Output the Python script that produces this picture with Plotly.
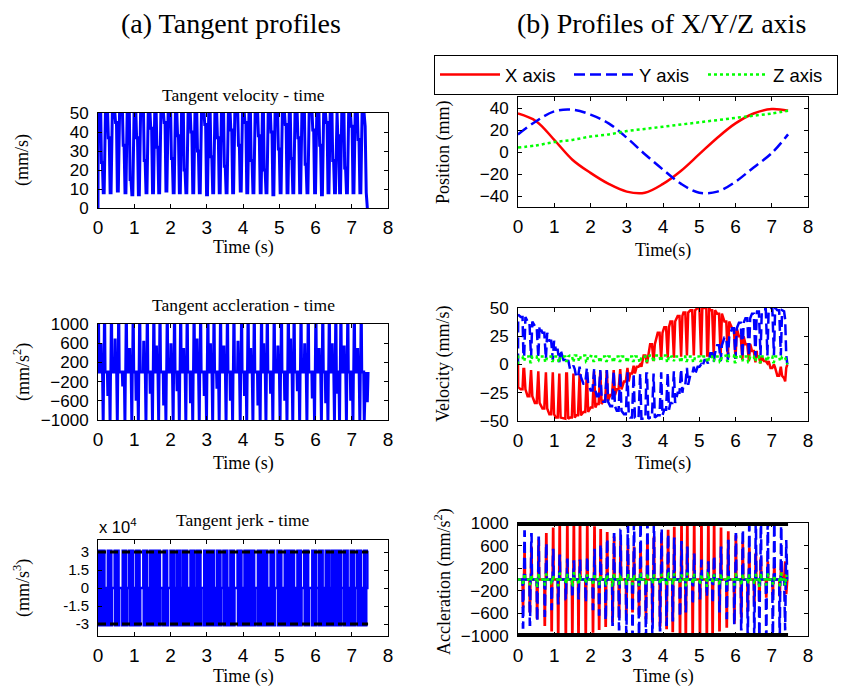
import plotly.graph_objects as go

# ---------------- data ----------------
# times (s) of the tangent-velocity troughs, one per motion cycle
cycle_t = [0.16, 0.35, 0.55, 0.76, 0.95, 1.13, 1.34, 1.52, 1.69, 1.89, 2.09, 2.26, 2.44,
           2.63, 2.81, 3.01, 3.18, 3.36, 3.55, 3.73, 3.94, 4.12, 4.29, 4.49, 4.65, 4.84,
           5.04, 5.23, 5.39, 5.58, 5.78, 5.99, 6.18, 6.36, 6.54, 6.68, 6.87, 7.05, 7.24]

# tangent velocity (mm/s)
vel_peak = 50
vel_mid = [24, 37, 45, 33, 15, 37, 25, 42, 32, 45, 26, 38, 20, 40, 30, 44, 27, 37, 22, 41,
           33, 45, 25, 38, 20, 40, 31, 44, 26, 37, 23, 41, 33, 45, 25, 38, 21, 43, 36]
vel_trough = [8, 8, 9, 8, 7, 7, 8, 8, 8, 9, 8, 8, 8, 8, 8, 7, 8, 8, 8, 8, 9, 8, 8, 8, 8, 7,
              8, 8, 8, 8, 8, 8, 7, 8, 8, 8, 8, 8, 8]
vel_start_t = [0.0, 0.005]
vel_start_v = [0, 50]
vel_end_t = [7.34, 7.37, 7.40, 7.43]
vel_end_v = [50, 43, 8, 0]

# tangent acceleration (mm/s^2)
acc_peak = 1000
acc_mid = [600, -500, 700, -300, 500, -600, 650, -450, 550, -700, 600, -400, 500, -650,
           700, -500, 600, -350, 550, -600, 650, -500, 500, -700, 600, -450, 550, -600,
           700, -400, 600, -550, 500, -650, 600, -450, 550, -600, 500]
acc_start_t = [0.0, 0.006, 0.016, 0.024]
acc_start_v = [0, 1000, 1000, 0]
acc_end_t = [7.33, 7.345, 7.36, 7.38, 7.40, 7.43, 7.45]
acc_end_v = [0, -1000, 0, 0, -600, -600, 0]

# tangent jerk (mm/s^3) and limit lines
jerk_peak = 31000
jerk_limit = 30000
acc_limit = 1000
limit_t = [0.0, 7.45]

# axis positions (mm)
pos_t = [0, 0.5, 1, 1.5, 2, 2.5, 3, 3.5, 4, 4.5, 5, 5.5, 6, 6.5, 7, 7.45]
pos_x = [35, 28, 11, -7, -19, -29, -36, -37, -29, -17, -2, 13, 26, 35, 39, 37.5]
pos_y = [16, 28, 37, 38.5, 34, 26, 13, -2, -16, -29, -37, -36, -27, -14, -1, 16]
pos_z = [4, 6, 9, 11, 14, 16, 19, 21, 23, 25, 27, 29, 31, 33, 35, 37.5]

# axis velocities per cycle (mm/s): value at full speed / value at trough
vx_ext = [-22, -28, -34, -39, -44, -47, -48, -47, -45, -42, -38, -35, -32, -27, -22, -15,
          -8, -2, 8, 18, 28, 33, 38, 43, 46, 48, 50, 50, 48, 45, 38, 32, 25, 18, 12, 7, 3, -3, -10]
vx_lo = [-4, -5, -6, -7, -7, -8, -8, -8, -8, -7, -6, -6, -5, -5, -4, -3, -1, 0, 1, 3, 5, 6,
         6, 7, 8, 8, 8, 8, 8, 8, 6, 5, 4, 3, 2, 1, 1, 0, -2]
vy_ext = [42, 38, 34, 28, 21, 13, 4, -4, -11, -17, -23, -28, -33, -37, -41, -44, -47, -48,
          -48, -47, -45, -40, -34, -25, -18, -9, -2, 4, 10, 17, 24, 32, 37, 41, 45, 47, 49, 50, 48]
vy_lo = [7, 6, 6, 5, 4, 2, 1, -1, -2, -3, -4, -5, -5, -6, -7, -7, -8, -8, -8, -8, -7, -7,
         -6, -4, -3, -2, 0, 1, 2, 3, 4, 5, 6, 7, 7, 8, 8, 8, 8]
vz_ext = [7, 7, 7, 7, 7, 7, 7, 8, 8, 8, 7, 7, 7, 7, 7, 7, 7, 7, 7, 8, 8, 8, 7, 7, 7, 7, 7,
          7, 7, 7, 8, 8, 7, 7, 7, 7, 7, 7, 7]
vz_lo = [3, 2, 3, 2, 3, 2, 3, 2, 3, 2, 3, 2, 3, 2, 3, 2, 3, 2, 3, 2, 3, 2, 3, 2, 3, 2, 3,
         2, 3, 2, 3, 2, 3, 2, 3, 2, 3, 2, 3]
vx_start_v = [0, -20]
vy_start_v = [0, 44]
vz_start_v = [0, 7]
vx_end_v = [-12, -15, -3, 0]
vy_end_v = [47, 40, 8, 0]
vz_end_v = [7, 6, 2, 0]

# axis acceleration amplitude per cycle (mm/s^2)
ax_amp = [480, 560, 680, 800, 900, 960, 1000, 1000, 1000, 960, 920, 870, 820, 740, 660, 590,
          560, 600, 680, 740, 810, 860, 910, 960, 990, 1000, 1000, 1000, 960, 900, 830, 760,
          650, 550, 450, 370, 300, 250, 280]
ay_amp = [850, 800, 740, 640, 520, 420, 350, 320, 330, 400, 520, 620, 720, 800, 880, 950,
          1000, 1000, 1000, 980, 900, 800, 720, 660, 560, 440, 330, 300, 420, 560, 680, 800,
          880, 950, 1000, 1000, 1000, 1000, 950]
az_amp = [100, 80, 110, 90, 70, 100, 80, 110, 90, 70, 100, 80, 90, 110, 70, 100, 80, 90, 100,
          70, 80, 110, 90, 70, 100, 80, 90, 110, 70, 100, 80, 90, 100, 70, 80, 110, 90, 70, 100]
acomp_start_v = [0, 0]
acomp_start_t = [0.0, 0.05]
acomp_end_t = [7.34, 7.37, 7.40, 7.43, 7.45]
ax_end_v = [0, 320, -260, 0, 0]
ay_end_v = [0, -900, 700, 0, 0]
az_end_v = [0, -100, 80, 0, 0]

# ---------------- build poly-lines from the per-cycle values ----------------
def tangent_velocity():
    t, v = list(vel_start_t), list(vel_start_v)
    for T, m, d in zip(cycle_t, vel_mid, vel_trough):
        t += [T - 0.085, T - 0.065, T - 0.04, T - 0.015, T + 0.01, T + 0.045]
        v += [vel_peak, m, m, d, d, vel_peak]
    return t + vel_end_t, v + vel_end_v


def tangent_accel():
    t, v = list(acc_start_t), list(acc_start_v)
    P = acc_peak
    for T, am in zip(cycle_t, acc_mid):
        t += [T - 0.09, T - 0.078, T - 0.066, T - 0.035, T - 0.025, T - 0.017, T - 0.005,
              T + 0.005, T + 0.017, T + 0.025, T + 0.035]
        v += [0, am, 0, 0, -P, -P, 0, 0, P, P, 0]
    return t + acc_end_t, v + acc_end_v


def tangent_jerk(at, av):
    t, v = [], []
    for i in range(len(at) - 1):
        if av[i + 1] > av[i]:
            lev = jerk_peak
        elif av[i + 1] < av[i]:
            lev = -jerk_peak
        else:
            lev = 0
        t += [at[i], at[i + 1]]
        v += [lev, lev]
    return t, v


def comp_velocity(ext, lo, start_v, end_v):
    t, v = list(vel_start_t), list(start_v)
    for T, e, l in zip(cycle_t, ext, lo):
        t += [T - 0.085, T - 0.035, T - 0.01, T + 0.01, T + 0.045]
        v += [e, e, l, l, e]
    return t + vel_end_t, v + end_v


def comp_accel(amp, end_v):
    t, v = list(acomp_start_t), list(acomp_start_v)
    for T, a in zip(cycle_t, amp):
        t += [T - 0.035, T - 0.025, T - 0.017, T - 0.005, T + 0.005, T + 0.017, T + 0.025, T + 0.035]
        v += [0, -a, -a, 0, 0, a, a, 0]
    return t + acomp_end_t, v + end_v


# ---------------- figure ----------------
W, H = 844, 687
SANS = "Liberation Sans, Arial, sans-serif"
SERIF = "Liberation Serif, Times New Roman, serif"
RED, BLUE, GREEN, BLACK = "#ff0000", "#0000ff", "#00ff00", "#000000"
DASH = "11px,5px"
DOT = "3px,3px"

fig = go.Figure()


def ax_ids(k):
    return ("x", "y") if k == 1 else (f"x{k}", f"y{k}")


def add(k, x, y, color, width, dash="solid", name=None, legend=False):
    xa, ya = ax_ids(k)
    fig.add_trace(go.Scatter(x=x, y=y, xaxis=xa, yaxis=ya, mode="lines",
                             line=dict(color=color, width=width, dash=dash),
                             name=name, showlegend=legend, hoverinfo="skip"))


vt, vv = tangent_velocity()
add(1, vt, vv, BLUE, 3)
at, av = tangent_accel()
add(2, at, av, BLUE, 3)
jt, jv = tangent_jerk(at, av)
add(3, jt, jv, BLUE, 2.5)
add(3, limit_t, [jerk_limit, jerk_limit], BLACK, 3, "8px,4px")
add(3, limit_t, [-jerk_limit, -jerk_limit], BLACK, 3, "8px,4px")

add(4, pos_t, pos_x, RED, 2.5, "solid", "X axis", True)
add(4, pos_t, pos_y, BLUE, 2.5, DASH, "Y axis", True)
add(4, pos_t, pos_z, GREEN, 2.5, DOT, "Z axis", True)
for tr in fig.data[-3:]:
    tr.line.shape = "spline"

t, v = comp_velocity(vx_ext, vx_lo, vx_start_v, vx_end_v)
add(5, t, v, RED, 2.5)
t, v = comp_velocity(vy_ext, vy_lo, vy_start_v, vy_end_v)
add(5, t, v, BLUE, 2.5, DASH)
t, v = comp_velocity(vz_ext, vz_lo, vz_start_v, vz_end_v)
add(5, t, v, GREEN, 2.5, DOT)

t, v = comp_accel(ax_amp, ax_end_v)
add(6, t, v, RED, 2.5)
t, v = comp_accel(ay_amp, ay_end_v)
add(6, t, v, BLUE, 2.5, DASH)
t, v = comp_accel(az_amp, az_end_v)
add(6, t, v, GREEN, 2.5, DOT)
add(6, limit_t, [acc_limit, acc_limit], BLACK, 6)
add(6, limit_t, [-acc_limit, -acc_limit], BLACK, 6)


def px(x):
    return x / W


def py(y):
    return 1 - y / H


LEFT_X = [px(98), px(388)]
RIGHT_X = [px(518), px(808)]
doms = {
    1: (LEFT_X, [py(208), py(113)]),
    2: (LEFT_X, [py(420), py(324)]),
    3: (LEFT_X, [py(636), py(540)]),
    4: (RIGHT_X, [py(207), py(97)]),
    5: (RIGHT_X, [py(421), py(308)]),
    6: (RIGHT_X, [py(636), py(523)]),
}
yspec = {
    1: dict(range=[0, 50], tickvals=[0, 10, 20, 30, 40, 50]),
    2: dict(range=[-1000, 1000], tickvals=[-1000, -600, -200, 200, 600, 1000]),
    3: dict(range=[-40000, 40000], tickvals=[-30000, -15000, 0, 15000, 30000],
            ticktext=["-3", "-1.5", "0", "1.5", "3"]),
    4: dict(range=[-50, 50], tickvals=[-40, -20, 0, 20, 40]),
    5: dict(range=[-50, 50], tickvals=[-50, -25, 0, 25, 50]),
    6: dict(range=[-1000, 1000], tickvals=[-1000, -600, -200, 200, 600, 1000]),
}
ytick_size = {1: 17, 2: 17, 3: 15, 4: 17, 5: 17, 6: 17}
common = dict(showline=True, linecolor=BLACK, linewidth=1, mirror="ticks", ticks="inside",
              ticklen=4, tickcolor=BLACK, showgrid=False, zeroline=False, fixedrange=True,
              automargin=False)
layout_axes = {}
for k in range(1, 7):
    xd, yd = doms[k]
    xa, ya = ax_ids(k)
    xname = "xaxis" if k == 1 else f"xaxis{k}"
    yname = "yaxis" if k == 1 else f"yaxis{k}"
    layout_axes[xname] = dict(domain=xd, anchor=ya, range=[0, 8], tickvals=list(range(9)),
                              tickfont=dict(family=SANS, size=19, color=BLACK),
                              ticklabelstandoff=2, **common)
    layout_axes[yname] = dict(domain=yd, anchor=xa,
                              tickfont=dict(family=SANS, size=ytick_size[k], color=BLACK),
                              ticklabelstandoff=5, **yspec[k], **common)

ann = []


def text(x, y, s, size, family=SERIF, angle=0, xanchor="center"):
    ann.append(dict(x=px(x), y=py(y), xref="paper", yref="paper", text=s, showarrow=False,
                    xanchor=xanchor, yanchor="middle", textangle=angle,
                    font=dict(family=family, size=size, color=BLACK)))


text(231, 24, "(a) Tangent profiles", 28)
text(661, 24, "(b) Profiles of X/Y/Z axis", 28)
text(243, 95, "Tangent velocity - time", 17.5)
text(243, 305, "Tangent accleration - time", 17.5)
text(243, 520, "Tangent jerk - time", 17.5)
text(97, 526, "x 10<sup>4</sup>", 16.5, SANS, xanchor="left")
text(22, 160, "(mm/s)", 18, angle=-90)
text(22, 372, "(mm/s<sup>2</sup>)", 18, angle=-90)
text(22, 588, "(mm/s<sup>3</sup>)", 18, angle=-90)
text(443, 152, "Position (mm)", 18, angle=-90)
text(443, 364, "Velocity (mm/s)", 18, angle=-90)
text(443, 581, "Accleration (mm/s<sup>2</sup>)", 18, angle=-90)
text(243, 247, "Time (s)", 18)
text(243, 463, "Time (s)", 18)
text(243, 676, "Time (s)", 18)
text(663, 250, "Time(s)", 18)
text(663, 463, "Time(s)", 18)
text(663, 676, "Time (s)", 18)

fig.update_layout(
    width=W, height=H, margin=dict(l=0, r=0, t=0, b=0, autoexpand=False),
    paper_bgcolor="white", plot_bgcolor="white",
    annotations=ann,
    legend=dict(orientation="h", x=px(838), y=py(55), xanchor="right", yanchor="top",
                bordercolor=BLACK, borderwidth=1, bgcolor="white",
                font=dict(family=SANS, size=18.5, color=BLACK),
                itemwidth=60, entrywidth=59, entrywidthmode="pixels", tracegroupgap=0),
    **layout_axes,
)

fig.write_html("out.html")
